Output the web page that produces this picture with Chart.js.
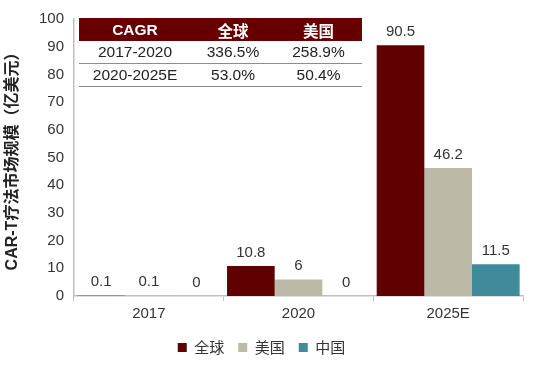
<!DOCTYPE html>
<html>
<head>
<meta charset="utf-8">
<script src="https://cdn.jsdelivr.net/npm/chart.js@4"></script>
<style>
  body { margin: 0; background: #fff; font-family: "Liberation Sans", Arial, "Noto Sans CJK SC", sans-serif; }
  #wrap { position: relative; width: 535px; height: 369px; }
  #cagr { position: absolute; left: 79px; top: 18px; width: 283px; border-collapse: collapse; font-size: 15.5px; color: #222; }
  #cagr th { background: #660000; color: #fff; font-weight: bold; height: 23px; padding: 0; text-align: center; }
  #cagr td { height: 22px; padding: 0; text-align: center; border-bottom: 1.5px solid #8c8c8c; }
</style>
</head>
<body>
<div id="wrap">
  <canvas id="barChart" width="535" height="369"></canvas>
  <table id="cagr">
    <colgroup><col style="width:112px"><col style="width:84px"><col style="width:87px"></colgroup>
    <tr><th>CAGR</th><th>全球</th><th>美国</th></tr>
    <tr><td>2017-2020</td><td>336.5%</td><td>258.9%</td></tr>
    <tr><td>2020-2025E</td><td>53.0%</td><td>50.4%</td></tr>
  </table>
</div>
<script>
let years = ['2017', '2020', '2025E'];
let globalVals = [0.1, 10.8, 90.5];
let usVals = [0.1, 6, 46.2];
let chinaVals = [0, 0, 11.5];
let seriesNames = ['全球', '美国', '中国'];
let yTicks = [0, 10, 20, 30, 40, 50, 60, 70, 80, 90, 100];

let ctx = document.getElementById('barChart').getContext('2d');

//Draw value labels above each bar
const valueLabels = {
    id: 'valueLabels',
    afterDatasetsDraw(chart) {
        let c = chart.ctx;
        c.save();
        c.font = '15px "Liberation Sans", Arial, sans-serif';
        c.fillStyle = '#333';
        c.textAlign = 'center';
        c.textBaseline = 'bottom';
        chart.data.datasets.forEach(function (ds, i) {
            chart.getDatasetMeta(i).data.forEach(function (bar, j) {
                c.fillText(String(ds.data[j]), bar.x, bar.y - 6);
            });
        });
        c.restore();
    }
};

let chart = new Chart(ctx, {
    type: 'bar',
    data: {
        labels: years,
        datasets: [
            { label: seriesNames[0], data: globalVals, backgroundColor: '#610000' },
            { label: seriesNames[1], data: usVals, backgroundColor: '#bcbaa7' },
            { label: seriesNames[2], data: chinaVals, backgroundColor: '#3f8a9b' }
        ]
    },
    options: {
        responsive: false,
        animation: { duration: 0 },
        layout: { padding: { top: 10, right: 12, left: 0, bottom: 4 } },
        datasets: { bar: { categoryPercentage: 0.955, barPercentage: 1 } },
        plugins: {
            tooltip: { enabled: false },
            legend: {
                position: 'bottom',
                labels: {
                    boxWidth: 9, boxHeight: 9, padding: 14,
                    color: '#333',
                    font: { size: 15, family: '"Noto Sans CJK SC", sans-serif' }
                }
            }
        },
        scales: {
            x: {
                grid: { display: true, drawOnChartArea: false, drawTicks: true, tickLength: 5, color: '#bfbfbf', offset: true },
                border: { color: '#bfbfbf', width: 1.5 },
                ticks: { color: '#333', font: { size: 15, family: '"Liberation Sans", Arial, sans-serif' }, padding: 4 },
                afterFit: function (scale) { scale.height = 30; }
            },
            y: {
                min: 0, max: 100,
                afterBuildTicks: function (scale) { scale.ticks = yTicks.map(function (v) { return { value: v }; }); },
                grid: { display: false, drawTicks: false },
                border: { color: '#bfbfbf', width: 1.5 },
                ticks: { color: '#333', font: { size: 15, family: '"Liberation Sans", Arial, sans-serif' }, padding: 10 },
                title: {
                    display: true,
                    text: 'CAR-T疗法市场规模（亿美元）',
                    color: '#222',
                    font: { size: 16, weight: 'bold', family: '"Liberation Sans", "Noto Sans CJK SC", sans-serif' },
                    padding: 3
                },
                afterFit: function (scale) { scale.width = 74; }
            }
        }
    },
    plugins: [valueLabels]
});
</script>
</body>
</html>
